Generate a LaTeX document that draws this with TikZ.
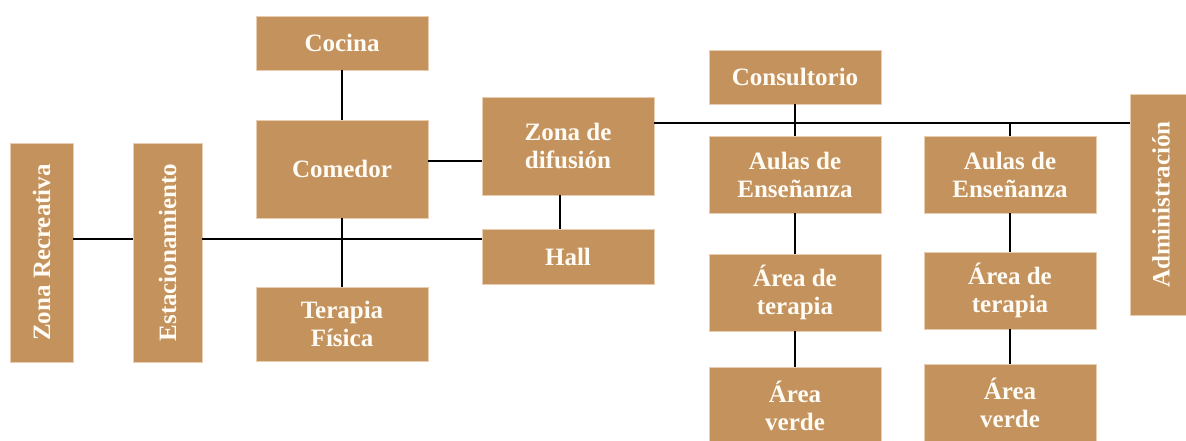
\documentclass[tikz,border=0pt]{standalone}
\usepackage{fontspec}
\setmainfont{Liberation Serif}
\definecolor{boxc}{RGB}{196,146,93}
\definecolor{boxedge}{RGB}{232,205,176}
\definecolor{txtc}{RGB}{255,252,245}
\begin{document}
\begin{tikzpicture}[x=1pt,y=-1pt,
  box/.style={fill=boxc,draw=boxedge,line width=0.6pt,text=txtc,align=center,
    font=\fontsize{25}{28}\selectfont\bfseries,inner sep=0pt},
  conn/.style={line width=2pt,black}]
\useasboundingbox (0,0) rectangle (1186,440);
% nodes
\node[box,minimum width=63,minimum height=219] (zr) at (41.5,252.5) {\rotatebox{90}{Zona Recreativa}};
\node[box,minimum width=69,minimum height=219] (est) at (167.5,252.5) {\rotatebox{90}{Estacionamiento}};
\node[box,minimum width=172,minimum height=54] (coc) at (342,43) {Cocina};
\node[box,minimum width=172,minimum height=98] (com) at (342,169) {Comedor};
\node[box,minimum width=172,minimum height=74] (tf) at (342,324) {Terapia\\Física};
\node[box,minimum width=172,minimum height=98] (zd) at (568,146) {Zona de\\difusión};
\node[box,minimum width=172,minimum height=55] (hall) at (568,256.5) {Hall};
\node[box,minimum width=172,minimum height=54] (cons) at (795,77) {Consultorio};
\node[box,minimum width=172,minimum height=77] (au1) at (795,174.5) {Aulas de\\Enseñanza};
\node[box,minimum width=172,minimum height=77] (at1) at (795,292.5) {Área de\\terapia};
\node[box,minimum width=172,minimum height=77] (av1) at (795,405.5) {Área\\verde};
\node[box,minimum width=172,minimum height=77] (au2) at (1010,174.5) {Aulas de\\Enseñanza};
\node[box,minimum width=172,minimum height=77] (at2) at (1010,290.5) {Área de\\terapia};
\node[box,minimum width=172,minimum height=77] (av2) at (1010,402.5) {Área\\verde};
\node[box,minimum width=62,minimum height=221] (adm) at (1161,204.5) {\rotatebox{90}{Administración}};
% helper coordinates
\coordinate (ya) at (0,239);
\coordinate (yb) at (0,161);
\coordinate (yc) at (0,123);
\coordinate (xh) at (560,0);
% connectors
\draw[conn] (zr.east |- ya) -- (est.west |- ya);
\draw[conn] (est.east |- ya) -- (hall.west |- ya);
\draw[conn] (coc.south) -- (com.north);
\draw[conn] (com.south) -- (tf.north);
\draw[conn] (com.east |- yb) -- (zd.west |- yb);
\draw[conn] (zd.south -| xh) -- (hall.north -| xh);
\draw[conn] (zd.east |- yc) -- (adm.west |- yc);
\draw[conn] (cons.south) -- (au1.north);
\draw[conn] (au2.north) -- (au2.north |- yc);
\draw[conn] (au1.south) -- (at1.north);
\draw[conn] (at1.south) -- (av1.north);
\draw[conn] (au2.south) -- (at2.north);
\draw[conn] (at2.south) -- (av2.north);
\end{tikzpicture}
\end{document}
